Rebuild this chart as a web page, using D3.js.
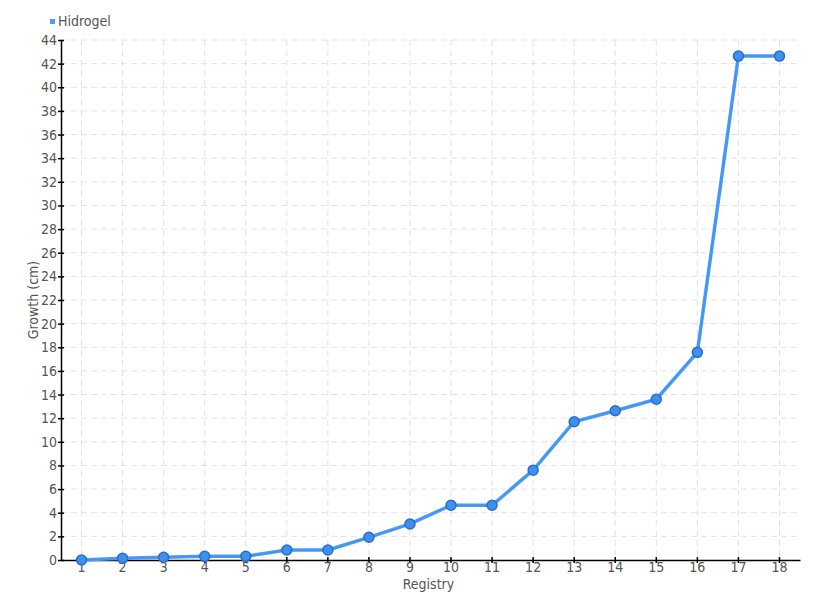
<!DOCTYPE html>
<html><head><meta charset="utf-8">
<script src="https://cdn.jsdelivr.net/npm/d3@7"></script>
<style>
body{margin:0;background:#fff;}
text{font-family:"DejaVu Sans",sans-serif;font-stretch:condensed;}
</style></head>
<body><svg id="c" width="820" height="600"></svg>
<script>
const categories = ["1","2","3","4","5","6","7","8","9","10","11","12","13","14","15","16","17","18"];
const seriesName = "Hidrogel";
const values = [0, 0.14, 0.23, 0.31, 0.31, 0.85, 0.85, 1.92, 3.05, 4.63, 4.63, 7.6, 11.7, 12.63, 13.6, 17.57, 42.64, 42.64];
const yTicks = d3.range(0, 45, 2);

const svg = d3.select("#c");
const L = 61, R = 800, T = 40, B = 560;
const FONT = '"DejaVu Sans",sans-serif';
const x = d3.scaleBand().domain(categories).range([L, R]);
const cx = d => x(d) + x.bandwidth() / 2;
const y = d3.scaleLinear().domain([0, 44]).range([B, T]);

// grid
const g = svg.append("g");
g.selectAll("line.h").data(yTicks.filter(d => d > 0)).join("line")
  .attr("x1", L).attr("x2", R).attr("y1", d => y(d)).attr("y2", d => y(d))
  .attr("stroke", "#e3e3e3").attr("stroke-dasharray", "6,4");
g.selectAll("line.v").data(categories).join("line")
  .attr("x1", d => cx(d)).attr("x2", d => cx(d)).attr("y1", T).attr("y2", B)
  .attr("stroke", "#e3e3e3").attr("stroke-dasharray", "6,4");

// axes
const yAxis = svg.append("g").attr("transform", `translate(${L},0)`)
  .call(d3.axisLeft(y).tickValues(yTicks).tickSize(3).tickSizeOuter(0));
const xAxis = svg.append("g").attr("transform", `translate(0,${B})`)
  .call(d3.axisBottom(x).tickSize(3).tickSizeOuter(0));
[yAxis, xAxis].forEach(a => {
  a.select(".domain").attr("stroke", "#000").attr("stroke-width", 1.5);
  a.selectAll(".tick line").attr("stroke", "#000").attr("stroke-width", 1.5);
  a.selectAll(".tick text").attr("fill", "#555").style("font-size", "14px")
   .style("font-family", FONT).style("font-stretch", "condensed");
});
yAxis.selectAll(".tick line").attr("x1", 3);
xAxis.selectAll(".tick line").attr("y1", -3);
yAxis.selectAll(".tick text").attr("x", -4);
xAxis.selectAll(".tick text").attr("y", 2);

// line
const line = d3.line().x((d, i) => cx(categories[i])).y(d => y(d));
svg.append("path").datum(values).attr("d", line)
  .attr("fill", "none").attr("stroke", "#4a9cf6").attr("stroke-width", 3.5).attr("stroke-linejoin", "round");
svg.append("path").datum(values).attr("d", line)
  .attr("fill", "none").attr("stroke", "#3b8ee8").attr("stroke-width", 1).attr("opacity", 0.6);

svg.selectAll("circle.p").data(values).join("circle")
  .attr("cx", (d, i) => cx(categories[i])).attr("cy", d => y(d)).attr("r", 5)
  .attr("fill", "#3d8ff0").attr("stroke", "#2b6fc4").attr("stroke-width", 1.5);

// labels
svg.append("text").attr("x", (L + R) / 2 - 2).attr("y", 589).attr("text-anchor", "middle")
  .attr("fill", "#555").style("font-size", "14px").text("Registry");
svg.append("text").attr("transform", "translate(38,300) rotate(-90)").attr("text-anchor", "middle")
  .attr("fill", "#555").style("font-size", "14px").text("Growth (cm)");

// legend
svg.append("rect").attr("x", 50).attr("y", 19).attr("width", 5).attr("height", 5).attr("fill", "#4a9cf6");
svg.append("text").attr("x", 58).attr("y", 26).attr("fill", "#555").style("font-size", "14px").text(seriesName);
</script></body></html>
